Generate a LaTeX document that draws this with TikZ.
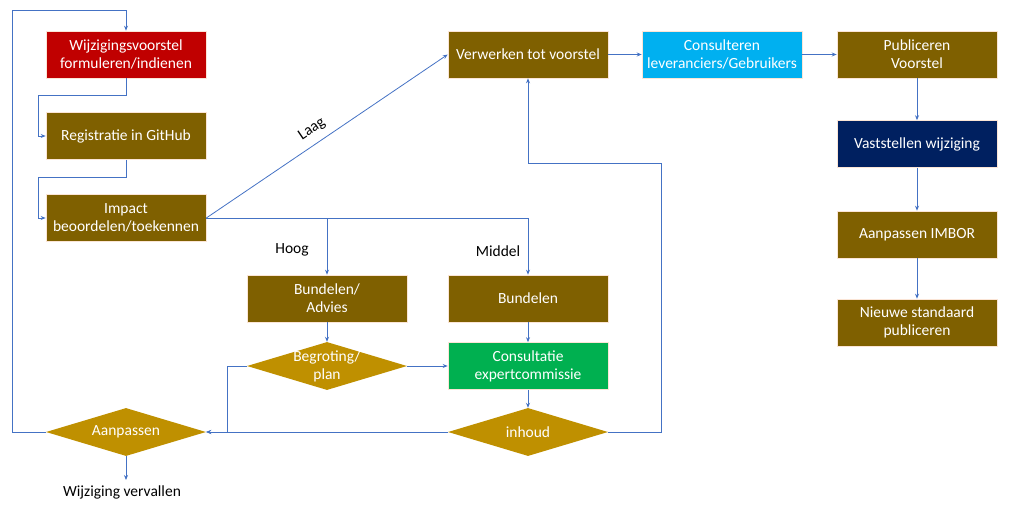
\documentclass[tikz,border=0pt]{standalone}
\usepackage{fontspec}
\setmainfont{Carlito}
\usetikzlibrary{shapes.geometric,arrows.meta}
\definecolor{brn}{HTML}{7F6000}
\definecolor{gld}{HTML}{BF9000}
\definecolor{rd}{HTML}{C00000}
\definecolor{cy}{HTML}{00B0F0}
\definecolor{nv}{HTML}{002060}
\definecolor{gr}{HTML}{00B050}
\definecolor{ln}{HTML}{4472C4}
\definecolor{edg}{HTML}{FBE5D6}
\tikzset{
  box/.style={rectangle, fill=brn, draw=edg, line width=0.6pt, text=white, minimum width=160pt, minimum height=47pt, inner sep=0pt, align=center, font=\fontsize{15.5}{18}\selectfont},
  dia/.style={diamond, fill=gld, draw=none, minimum width=160pt, minimum height=48pt, inner sep=0pt, aspect=3.3},
  dtxt/.style={text=white, inner sep=0pt, align=center, font=\fontsize{15.5}{18}\selectfont},
  lbl/.style={text=black, font=\fontsize{15.5}{18}\selectfont, inner sep=1pt},
  con/.style={draw=ln, line width=0.8pt},
  arr/.style={con, -{Stealth[length=5pt,width=4pt]}}
}
\begin{document}
\begin{tikzpicture}[x=1pt,y=-1pt]
\useasboundingbox (0,0) rectangle (1014,513);
% boxes
\node[box, fill=rd] (wijz) at (126,54.5) {Wijzigingsvoorstel\\formuleren/indienen};
\node[box] (reg) at (126,136) {Registratie in GitHub};
\node[box] (imp) at (126,218) {Impact\\beoordelen/toekennen};
\node[box] (verw) at (528,54.5) {Verwerken tot voorstel};
\node[box, fill=cy] (cons) at (722,54.5) {Consulteren\\leveranciers/Gebruikers};
\node[box] (publ) at (917,54.5) {Publiceren\\Voorstel};
\node[box, fill=nv] (vast) at (917,144) {Vaststellen wijziging};
\node[box] (imbor) at (917,234.5) {Aanpassen IMBOR};
\node[box] (nieuw) at (917,322.5) {Nieuwe standaard\\publiceren};
\node[box] (badv) at (327,298.5) {Bundelen/\\Advies};
\node[box] (bund) at (528,298.5) {Bundelen};
\node[box, fill=gr] (expc) at (528,366) {Consultatie\\expertcommissie};
% diamonds
\node[dia] (begr) at (327,366) {};
\node[dtxt] (begrt) at (begr.center) {Begroting/\\plan};
\node[dia] (aanp) at (126,432) {};
\node[dtxt] (aanpt) at (aanp.center) {Aanpassen};
\node[dia] (inh) at (528,432) {};
\node[dtxt] (inht) at (inh.center) {inhoud};
\node[lbl] (verv) at (122,492) {Wijziging vervallen};
% labels
\node[lbl, rotate=34] (laag) at (312,129) {Laag};
\node[lbl] (hoog) at (292,250) {Hoog};
\node[lbl] (midd) at (498,251) {Middel};
% connectors
\draw[arr] (aanp.west) -- (12,432) -- (12,10) -| (wijz.north);
\draw[arr] (wijz.south) |- (38,95) |- (reg.west);
\draw[arr] (reg.south) |- (38,177) |- (imp.west);
\draw[arr] (imp.east) -- (verw.west);
\coordinate (fork) at (528,218);
\draw[con] (imp.east) -- (fork);
\draw[arr] (fork) -- (bund.north);
\draw[arr] (imp.east -| badv.north) -- (badv.north);
\draw[arr] (badv.south) -- (begr.north);
\draw[arr] (bund.south) -- (expc.north);
\draw[arr] (begr.east) -- (expc.west);
\draw[arr] (expc.south) -- (inh.north);
\draw[arr] (inh.west) -- (aanp.east);
\draw[arr] (begr.west) -- (227,366) |- (aanp.east);
\draw[arr] (inh.east) -| (661,163) -| (verw.south);
\draw[arr] (verw.east) -- (cons.west);
\draw[arr] (cons.east) -- (publ.west);
\draw[arr] (publ.south) -- (vast.north);
\draw[arr] (vast.south) -- (imbor.north);
\draw[arr] (imbor.south) -- (nieuw.north);
\draw[arr] (aanp.south) -- (126,480);
\end{tikzpicture}
\end{document}
